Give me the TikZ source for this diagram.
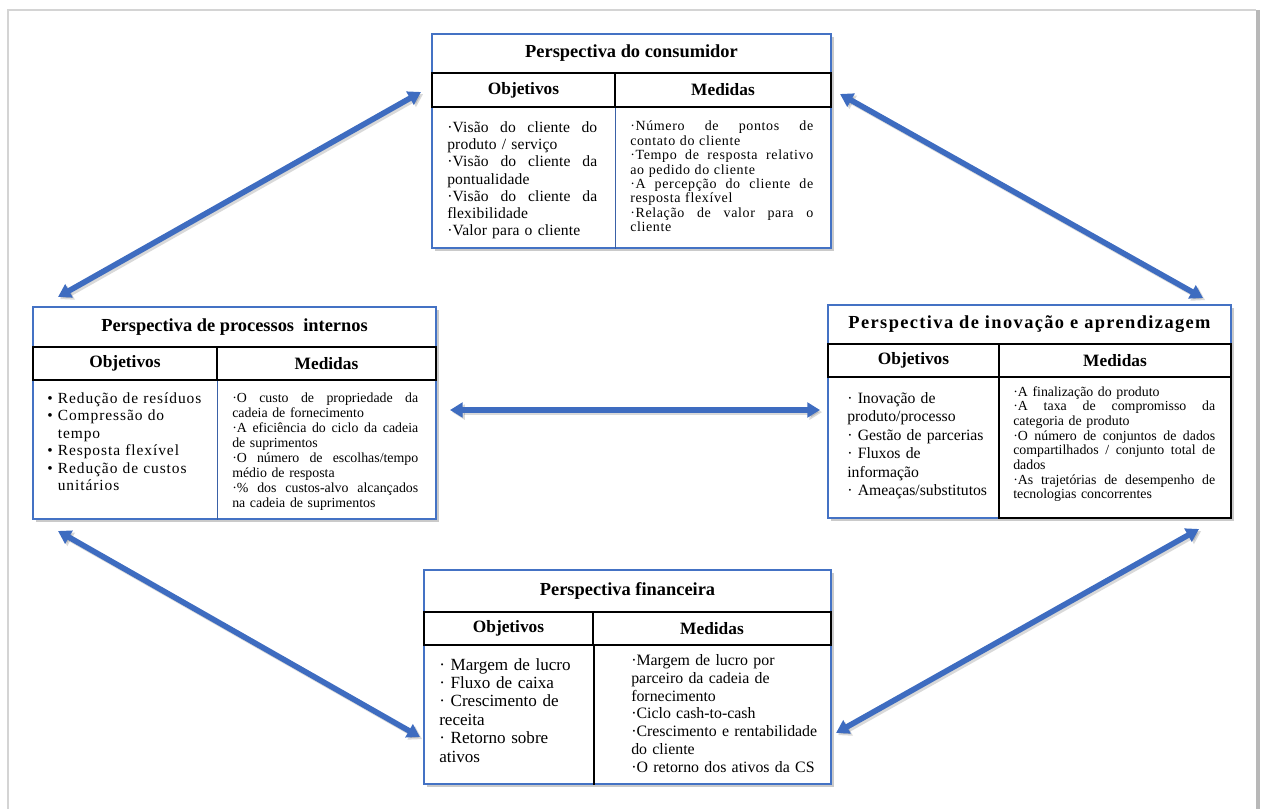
\documentclass[tikz,border=0pt]{standalone}
\usepackage{fontspec}
\setmainfont{Liberation Serif}
\newfontfamily\lsA[LetterSpace=1]{Liberation Serif}
\newfontfamily\lsB[LetterSpace=4.5]{Liberation Serif}
\newfontfamily\lsC[LetterSpace=6]{Liberation Serif}
\newfontfamily\lsT[LetterSpace=7.5]{Liberation Serif}
\usetikzlibrary{fit,shadows,arrows.meta}
\definecolor{frameblue}{RGB}{68,114,196}
\definecolor{arrowblue}{RGB}{62,108,192}
\definecolor{pagegray}{RGB}{212,212,212}
% a line set flush to both margins of a block of width \jw:
% the words are split at their spaces and spread with \hfill
\newlength\jw
\def\jl#1{\leavevmode\hbox to\jw{\jlsplit#1 \jlend}}
\def\jlsplit#1 #2\jlend{#1\ifx\relax#2\relax\else\hfill\jlsplit#2\jlend\fi}

\begin{document}
\begin{tikzpicture}[x=0.75pt,y=-0.75pt,
  panel/.style={draw=frameblue, line width=0.8pt, fill=white, inner sep=0pt,
    drop shadow={shadow xshift=2.2pt, shadow yshift=-2.2pt, opacity=0.35, fill=black!60}},
  cell/.style={inner sep=0pt},
  hcell/.style={draw=black, line width=1.3pt, inner sep=0pt},
  headline/.style={inner sep=0pt, font=\fontsize{13.8}{16}\selectfont\bfseries},
  htext/.style={inner sep=0pt, font=\fontsize{13}{15}\selectfont\bfseries},
  bluediv/.style={draw=frameblue!85!black, line width=0.9pt},
  blackdiv/.style={draw=black, line width=1.1pt},
  body/.style={anchor=base west, inner sep=0pt, align=left},
  link/.style={arrowblue, line width=4.2pt,
    {Triangle[length=9.5pt,width=11pt]}-{Triangle[length=9.5pt,width=11pt]}},
  linkshadow/.style={link, draw=black, fill=black, opacity=0.15,
    transform canvas={shift={(1.6pt,-1.6pt)}}},
]
\useasboundingbox (0,0) rectangle (1262,809);

% page frame
\draw[pagegray, line width=1.6pt] (8,809) -- (8,10) -- (1256,10);
\draw[black!28, line width=3pt] (1258,10) -- (1258,809);

% ---------- Perspectiva do consumidor ----------
\node[panel, fit={(432,34) (831,248)}] (C) {};
\node[cell, fit={(432,34) (831,73)}] (Ct) {};
\node[hcell, fit={(432,73) (615,107)}] (Cho) {};
\node[hcell, fit={(615,73) (831,107)}] (Chm) {};
\node[headline] (Ctx) at (Ct.center) {Perspectiva do consumidor};
\node[htext] (Chox) at (Cho.center) {Objetivos};
\node[htext] (Chmx) at (Chm.center) {Medidas};
\draw[bluediv] (Cho.south east) -- (Cho.south east |- C.south);
\node[body, text width=112.5pt, font=\lsA\fontsize{11.7}{12.9}\selectfont] (Cbo) at (447,132.5) {%
\setlength\jw{112.5pt}%
\jl{·Visão do cliente do}\\
produto / serviço\\
\jl{·Visão do cliente da}\\
pontualidade\\
\jl{·Visão do cliente da}\\
flexibilidade\\
·Valor para o cliente};
\node[body, text width=137.25pt, font=\lsB\fontsize{10.5}{10.8}\selectfont] (Cbm) at (630,131) {%
\setlength\jw{137.25pt}%
\jl{·Número de pontos de}\\
contato do cliente\\
\jl{·Tempo de resposta relativo}\\
ao pedido do cliente\\
\jl{·A percepção do cliente de}\\
resposta flexível\\
\jl{·Relação de valor para o}\\
cliente};

% ---------- Perspectiva de processos internos ----------
\node[panel, fit={(33,307) (436,519)}] (L) {};
\node[cell, fit={(33,307) (436,347)}] (Lt) {};
\node[hcell, fit={(33,347) (217,380)}] (Lho) {};
\node[hcell, fit={(217,347) (436,380)}] (Lhm) {};
\node[headline] (Ltx) at (Lt.center) {Perspectiva de processos\ \ internos};
\node[htext] (Lhox) at (Lho.center) {Objetivos};
\node[htext] (Lhmx) at (Lhm.center) {Medidas};
\draw[bluediv] (Lho.south east) -- (Lho.south east |- L.south);
\node[body, text width=170pt, font=\lsC\fontsize{11.6}{13.1}\selectfont] (Lbo) at (47,403.5) {%
• Redução de resíduos\\
• Compressão do\\
\phantom{• }tempo\\
• Resposta flexível\\
• Redução de custos\\
\phantom{• }unitários};
\node[body, text width=139.5pt, font=\fontsize{10.4}{11.25}\selectfont] (Lbm) at (232,402) {%
\setlength\jw{139.5pt}%
\jl{·O custo de propriedade da}\\
cadeia de fornecimento\\
\jl{·A eficiência do ciclo da cadeia}\\
de suprimentos\\
\jl{·O número de escolhas/tempo}\\
médio de resposta\\
\jl{·\% dos custos-alvo alcançados}\\
na cadeia de suprimentos};

% ---------- Perspectiva de inovação e aprendizagem ----------
\node[panel, fit={(828,305) (1231,518)}] (R) {};
\node[cell, fit={(828,305) (1231,344)}] (Rt) {};
\node[hcell, fit={(828,344) (999,377)}] (Rho) {};
\node[hcell, fit={(999,344) (1231,377)}] (Rhm) {};
\node[draw=black, line width=1.3pt, inner sep=0pt, fit={(999,377) (1231,518)}] (Rmc) {};
\node[headline, font=\lsT\fontsize{13.8}{16}\selectfont\bfseries] (Rtx) at (Rt.center) {Perspectiva de inovação e aprendizagem};
\node[htext] (Rhox) at (Rho.center) {Objetivos};
\node[htext] (Rhmx) at (Rhm.center) {Medidas};
\node[body, text width=150pt, font=\fontsize{11.8}{13.8}\selectfont] (Rbo) at (847,403.5) {%
· Inovação de\\
produto/processo\\
· Gestão de parcerias\\
· Fluxos de\\
informação\\
· Ameaças/substitutos};
\node[body, text width=151.5pt, font=\fontsize{10.4}{11}\selectfont] (Rbm) at (1013,396) {%
\setlength\jw{151.5pt}%
·A finalização do produto\\
\jl{·A taxa de compromisso da}\\
categoria de produto\\
\jl{·O número de conjuntos de dados}\\
\jl{compartilhados / conjunto total de}\\
dados\\
\jl{·As trajetórias de desempenho de}\\
tecnologias concorrentes};

% ---------- Perspectiva financeira ----------
\node[panel, fit={(424,570) (831,784)}] (F) {};
\node[cell, fit={(424,570) (831,612)}] (Ft) {};
\node[hcell, fit={(424,612) (593,645)}] (Fho) {};
\node[hcell, fit={(593,612) (831,645)}] (Fhm) {};
\node[headline] (Ftx) at (Ft.center) {Perspectiva financeira};
\node[htext] (Fhox) at (Fho.center) {Objetivos};
\node[htext] (Fhmx) at (Fhm.center) {Medidas};
\draw[blackdiv] (Fho.south east) -- (Fho.south east |- F.south);
\node[body, text width=140pt, font=\fontsize{12.8}{13.8}\selectfont] (Fbo) at (439,670) {%
· Margem de lucro\\
· Fluxo de caixa\\
· Crescimento de\\
receita\\
· Retorno sobre\\
ativos};
\node[body, text width=150pt, font=\fontsize{11.9}{13.35}\selectfont] (Fbm) at (631,665.5) {%
·Margem de lucro por\\
parceiro da cadeia de\\
fornecimento\\
·Ciclo cash-to-cash\\
·Crescimento e rentabilidade\\
do cliente\\
·O retorno dos ativos da CS};

% ---------- two-way links between the perspectives ----------
\coordinate (lc) at (58,297);   \coordinate (cl) at (421,92);
\coordinate (cr) at (840,94);   \coordinate (rc) at (1203,298);
\coordinate (lf) at (58,531);   \coordinate (fl) at (420,737);
\coordinate (fr) at (836,733);  \coordinate (rf) at (1199,529);
\coordinate (lr) at (450,410);  \coordinate (rl) at (820,410);

\foreach \a/\b in {lc/cl, cr/rc, lf/fl, fr/rf, lr/rl}
  \draw[linkshadow] (\a) -- (\b);
\foreach \a/\b in {lc/cl, cr/rc, lf/fl, fr/rf, lr/rl}
  \draw[link] (\a) -- (\b);
\end{tikzpicture}
\end{document}
